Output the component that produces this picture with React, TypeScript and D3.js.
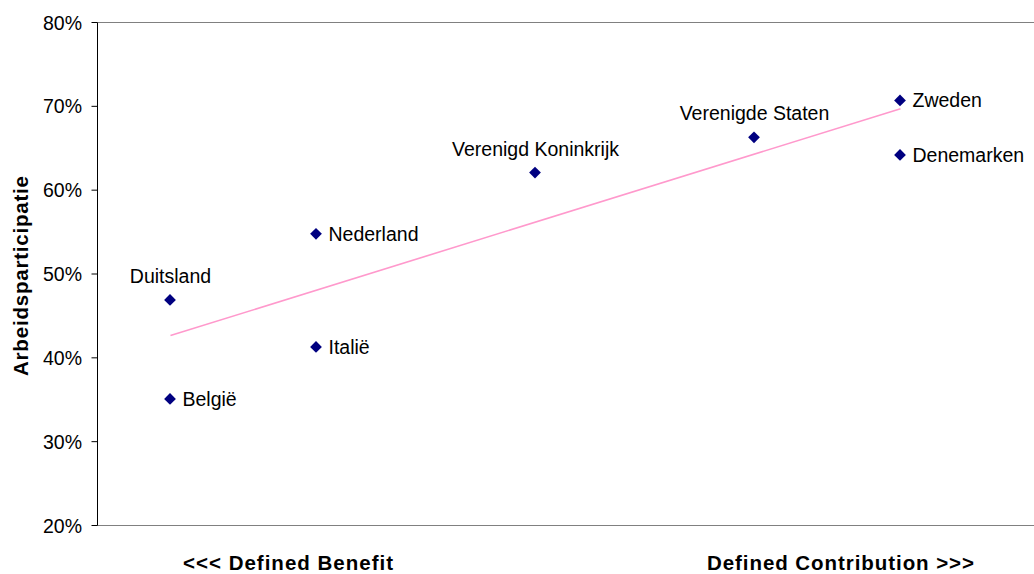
import React from "react";
import * as d3 from "d3";

// Pension system scores (1 = defined benefit ... 6 = defined contribution)
const countries = [
  "België",
  "Duitsland",
  "Nederland",
  "Italië",
  "Verenigd Koninkrijk",
  "Verenigde Staten",
  "Zweden",
  "Denemarken",
];
const systemScore = [1, 1, 2, 2, 3.5, 5, 6, 6];
const participation = [35.1, 46.9, 54.8, 41.3, 62.1, 66.3, 70.7, 64.2];

const yTicks = [20, 30, 40, 50, 60, 70, 80];
const yTitle = "Arbeidsparticipatie";
const xLeftTitle = "<<< Defined Benefit";
const xRightTitle = "Defined Contribution >>>";

// labels drawn above their marker instead of to the right
const labelsAbove = new Set(["Duitsland", "Verenigd Koninkrijk", "Verenigde Staten"]);

const W = 1034;
const H = 574;
const FONT = "'Liberation Sans', Arial, Helvetica, sans-serif";

export default function App() {
  const x = d3.scaleLinear().domain([0.5, 7.5]).range([97.5, 97.5 + 7 * 146]);
  const y = d3.scaleLinear().domain([20, 80]).range([525.5, 22.5]);

  const pts = countries.map((name, i) => ({
    name,
    sx: systemScore[i],
    v: participation[i],
  }));

  // least-squares trend line
  const mx = d3.mean(systemScore) as number;
  const my = d3.mean(participation) as number;
  const sxy = d3.sum(pts, (p) => (p.sx - mx) * (p.v - my));
  const sxx = d3.sum(pts, (p) => (p.sx - mx) ** 2);
  const slope = sxy / sxx;
  const icpt = my - slope * mx;
  const [x0, x1] = d3.extent(systemScore) as [number, number];
  const trend = d3
    .line<number>()
    .x((d) => x(d))
    .y((d) => y(icpt + slope * d))([x0, x1]);

  const diamond = d3.symbol().type(d3.symbolDiamond2).size(88)() as string;

  const left = x(0.5);
  const right = x(7.5);

  return (
    <svg
      width={W}
      height={H}
      style={{ position: "absolute", left: 0, top: 0, background: "#fff" }}
      fontFamily={FONT}
    >
      <rect x={0} y={0} width={W} height={H} fill="#fff" />
      {/* plot area border */}
      <line x1={left} x2={right} y1={y(80)} y2={y(80)} stroke="#808080" strokeWidth={1} />
      <line x1={left} x2={right} y1={y(20)} y2={y(20)} stroke="#808080" strokeWidth={1} />
      {/* y axis */}
      <line x1={left} x2={left} y1={y(80)} y2={y(20)} stroke="#000" strokeWidth={1} />
      {yTicks.map((t) => (
        <g key={t}>
          <line x1={left - 6} x2={left} y1={y(t)} y2={y(t)} stroke="#000" strokeWidth={1} />
          <text
            x={82}
            y={y(t) + 7}
            textAnchor="end"
            fontSize={19.5}
            fill="#000"
          >
            {d3.format(".0%")(t / 100)}
          </text>
        </g>
      ))}

      {/* trend line */}
      <path d={trend as string} fill="none" stroke="#FF99CC" strokeWidth={1.6} />

      {/* points */}
      {pts.map((p) => (
        <path
          key={p.name}
          d={diamond}
          transform={`translate(${x(p.sx) - 0.5},${y(p.v)})`}
          fill="#000080"
        />
      ))}

      {/* point labels */}
      {pts.map((p) =>
        labelsAbove.has(p.name) ? (
          <text
            key={p.name + "-l"}
            x={x(p.sx)}
            y={y(p.v) - 17}
            textAnchor="middle"
            fontSize={19.5}
            fill="#000"
          >
            {p.name}
          </text>
        ) : (
          <text
            key={p.name + "-l"}
            x={x(p.sx) + 12}
            y={y(p.v) + 7}
            textAnchor="start"
            fontSize={19.5}
            fill="#000"
          >
            {p.name}
          </text>
        )
      )}

      {/* axis titles */}
      <text
        transform={`translate(28,276) rotate(-90)`}
        textAnchor="middle"
        fontSize={20.5}
        fontWeight="bold"
        textLength={200}
        lengthAdjust="spacing"
        fill="#000"
      >
        {yTitle}
      </text>
      <text
        x={183}
        y={570}
        fontSize={20.5}
        fontWeight="bold"
        textLength={210}
        lengthAdjust="spacing"
        fill="#000"
      >
        {xLeftTitle}
      </text>
      <text
        x={707}
        y={570}
        fontSize={20.5}
        fontWeight="bold"
        textLength={267}
        lengthAdjust="spacing"
        fill="#000"
      >
        {xRightTitle}
      </text>
    </svg>
  );
}
